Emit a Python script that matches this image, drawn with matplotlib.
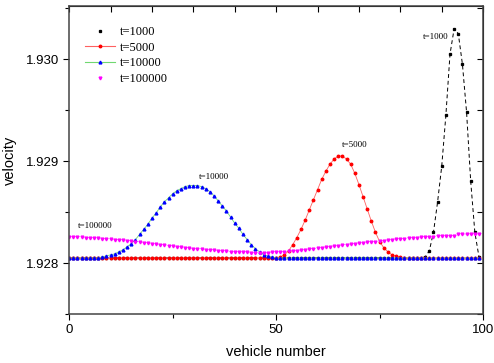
"""
Velocity profile along the vehicle chain at four time steps.
"""

import numpy as np
import matplotlib.pyplot as plt
from matplotlib.lines import Line2D
from matplotlib.ticker import MultipleLocator

# --- Data -------------------------------------------------------------------

vehicle = np.arange(0, 100)

# t = 1000 : narrow peak near vehicle 93
v_t1000 = [1.92805] * 86 + [
    1.92806, 1.92812, 1.92830, 1.92860, 1.92895, 1.92945, 1.93005,
    1.93030, 1.93025, 1.92995, 1.92948, 1.92880, 1.92830, 1.92806,
]

# t = 5000 : peak near vehicle 65
v_t5000 = [1.92805] * 51 + [
    1.92806, 1.92808, 1.92812, 1.92818, 1.92825, 1.92833, 1.92842, 1.92852,
    1.92862, 1.92872, 1.92882, 1.92890, 1.92897, 1.92902, 1.92905, 1.92905,
    1.92902, 1.92897, 1.92888, 1.92877, 1.92865, 1.92853, 1.92841, 1.92830,
    1.92821, 1.92815, 1.92811, 1.92808, 1.92807, 1.92806,
] + [1.92805] * 19

# t = 10000 : broad peak near vehicle 30
v_t10000 = [1.92805] * 8 + [
    1.92806, 1.92807, 1.92808, 1.92809, 1.92811, 1.92813, 1.92816, 1.92819,
    1.92823, 1.92828, 1.92833, 1.92838, 1.92844, 1.92849, 1.92855, 1.92860,
    1.92864, 1.92868, 1.92871, 1.92873, 1.92875, 1.92876, 1.92876, 1.92876,
    1.92875, 1.92873, 1.92870, 1.92866, 1.92861, 1.92856, 1.92851, 1.92845,
    1.92839, 1.92834, 1.92828, 1.92823, 1.92818, 1.92814, 1.92811, 1.92808,
    1.92807, 1.92806,
] + [1.92805] * 50

# t = 100000 : almost flat, shallow wave
v_t100000 = [
    1.92826, 1.92826, 1.92826, 1.92826, 1.92825, 1.92825, 1.92825, 1.92825,
    1.92824, 1.92824, 1.92824, 1.92823, 1.92823, 1.92823, 1.92822, 1.92822,
    1.92821, 1.92821, 1.92820, 1.92820, 1.92819, 1.92819, 1.92818, 1.92818,
    1.92817, 1.92817, 1.92816, 1.92816, 1.92815, 1.92815, 1.92814, 1.92814,
    1.92814, 1.92813, 1.92813, 1.92813, 1.92812, 1.92812, 1.92812, 1.92811,
    1.92811, 1.92811, 1.92811, 1.92811, 1.92810, 1.92810, 1.92810, 1.92810,
    1.92810, 1.92811, 1.92811, 1.92811, 1.92811, 1.92812, 1.92812, 1.92812,
    1.92813, 1.92813, 1.92814, 1.92814, 1.92815, 1.92815, 1.92816, 1.92816,
    1.92817, 1.92817, 1.92818, 1.92818, 1.92819, 1.92819, 1.92820, 1.92820,
    1.92821, 1.92821, 1.92821, 1.92822, 1.92822, 1.92823, 1.92823, 1.92824,
    1.92824, 1.92824, 1.92825, 1.92825, 1.92825, 1.92826, 1.92826, 1.92826,
    1.92826, 1.92827, 1.92827, 1.92827, 1.92827, 1.92827, 1.92828, 1.92828,
    1.92828, 1.92828, 1.92828, 1.92828,
]

labels = ["t=1000", "t=5000", "t=10000", "t=100000"]
notes = [("t=1000", 88.5, 1.93022), ("t=5000", 69.0, 1.92916),
         ("t=10000", 35.0, 1.92884), ("t=100000", 6.3, 1.92836)]

# --- Plot -------------------------------------------------------------------

SERIF = "Liberation Serif"
SANS = "Liberation Sans"

fig = plt.figure(figsize=(4.94, 3.63), dpi=100)
ax = fig.add_axes([0.14, 0.135, 0.838, 0.848])

ax.plot(vehicle, v_t1000, color="black", ls=(0, (4, 3)), lw=0.7,
        marker="s", ms=1.4, mec="black", mfc="black")
ax.plot(vehicle, v_t5000, color="#ff6060", lw=0.6,
        marker="o", ms=1.8, mec="red", mfc="red")
ax.plot(vehicle, v_t10000, color="#70d870", lw=0.6,
        marker="^", ms=2.0, mec="blue", mfc="blue")
ax.plot(vehicle, v_t100000, color="#ff40ff", lw=0.4, ls=":",
        marker="v", ms=2.0, mec="magenta", mfc="magenta")

for txt, x, y in notes:
    ax.text(x, y, txt, fontsize=6.5, family=SERIF, ha="center", va="center")

ax.set_xlim(0, 100)
ax.set_ylim(1.9275, 1.93052)

ax.xaxis.set_major_locator(MultipleLocator(50))
ax.xaxis.set_minor_locator(MultipleLocator(25))
ax.yaxis.set_major_locator(MultipleLocator(0.001))
ax.yaxis.set_minor_locator(MultipleLocator(0.0005))
ax.yaxis.set_major_formatter(plt.FormatStrFormatter("%.3f"))
ax.tick_params(which="major", direction="out", length=4, width=0.8,
               labelsize=9.5)
ax.tick_params(which="minor", direction="out", length=3, width=0.8)
for lab in ax.get_xticklabels() + ax.get_yticklabels():
    lab.set_family(SANS)

# mirrored ticks on top and right, pointing inward
top = ax.secondary_xaxis("top")
top.xaxis.set_major_locator(MultipleLocator(10))
top.tick_params(direction="in", length=4, width=0.8, labeltop=False)
right = ax.secondary_yaxis("right")
right.yaxis.set_major_locator(MultipleLocator(0.001))
right.yaxis.set_minor_locator(MultipleLocator(0.0005))
right.tick_params(which="both", direction="in", length=4, width=0.8,
                  labelright=False)

for sp in ax.spines.values():
    sp.set_linewidth(1.1)
    sp.set_color("#444444")

ax.set_xlabel("vehicle number", fontsize=10.5, family=SANS, labelpad=6)
ax.set_ylabel("velocity", fontsize=10.5, family=SANS, labelpad=6)

# legend as in the original: t=1000 and t=100000 show only their symbol
handles = [
    Line2D([], [], ls="none", marker="s", ms=1.4, color="black"),
    Line2D([], [], color="#ff6060", lw=0.8, marker="o", ms=1.8,
           mec="red", mfc="red"),
    Line2D([], [], color="#70d870", lw=0.8, marker="^", ms=2.0,
           mec="blue", mfc="blue"),
    Line2D([], [], ls="none", marker="v", ms=2.0, color="magenta"),
]
ax.legend(handles, labels, loc="upper left", bbox_to_anchor=(0.02, 0.96),
          frameon=False, prop={"family": SERIF, "size": 9},
          handlelength=2.4, handletextpad=0.4, labelspacing=0.3,
          borderaxespad=0.2)

plt.savefig("out.png", dpi=100, facecolor="white")
